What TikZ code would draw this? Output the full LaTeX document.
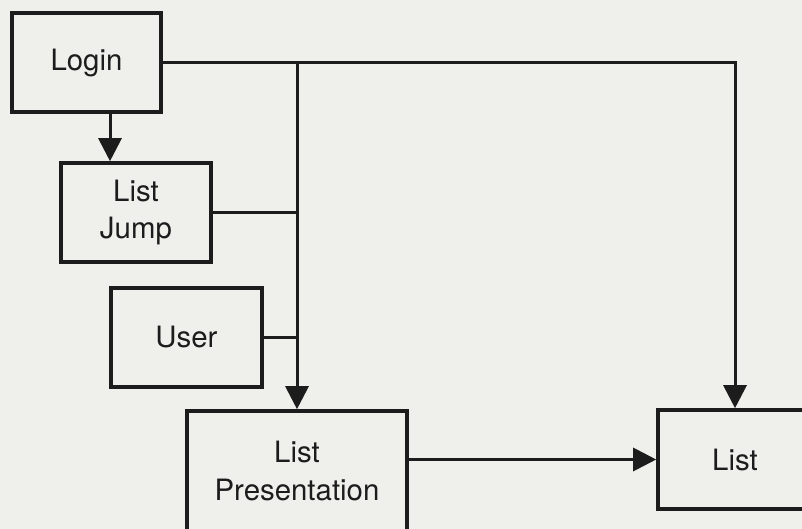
\documentclass[tikz,border=0pt]{standalone}
\usepackage{fontspec}
\setmainfont{TeX Gyre Heros}
\usetikzlibrary{arrows.meta}
\definecolor{paper}{RGB}{239,239,236}
\definecolor{ink}{RGB}{28,28,28}
\begin{document}
\begin{tikzpicture}[x=0.5pt,y=-0.5pt,
  box/.style={draw=ink, line width=1.8pt, fill=paper, inner sep=0pt,
    font=\fontsize{14.7}{18.5}\selectfont, text=ink, align=center},
  wire/.style={draw=ink, line width=1.5pt},
  arr/.style={wire, -{Triangle[length=11.5pt,width=11.5pt]}}]
  \useasboundingbox (0,0) rectangle (802,529);
  \fill[paper] (0,0) rectangle (802,529);
  \clip (0,0) rectangle (802,529);

  % modules
  \node[box, minimum width=74.5pt, minimum height=49.5pt] (login) at (86.5,62.5) {Login};
  \node[box, minimum width=75pt, minimum height=49.5pt] (jump) at (136,212.5) {List\\Jump};
  \node[box, minimum width=75.5pt, minimum height=49.5pt] (user) at (186.5,337.5) {User};
  \node[box, minimum width=110pt, minimum height=60pt] (pres) at (297,471) {List\\Presentation};
  \node[box, minimum width=77pt, minimum height=49.5pt] (list) at (735,459.5) {List};

  % connections
  \coordinate (drop) at (110,0);
  \draw[arr] (login.south -| drop) -- (drop |- jump.north);
  \draw[arr] (login.east) -| (list.north);
  \draw[arr] (login.east -| pres.north) -- (pres.north);
  \draw[wire] (jump.east) -- (jump.east -| pres.north);
  \draw[wire] (user.east) -- (user.east -| pres.north);
  \draw[arr] (pres.east |- list.west) -- (list.west);
\end{tikzpicture}
\end{document}
